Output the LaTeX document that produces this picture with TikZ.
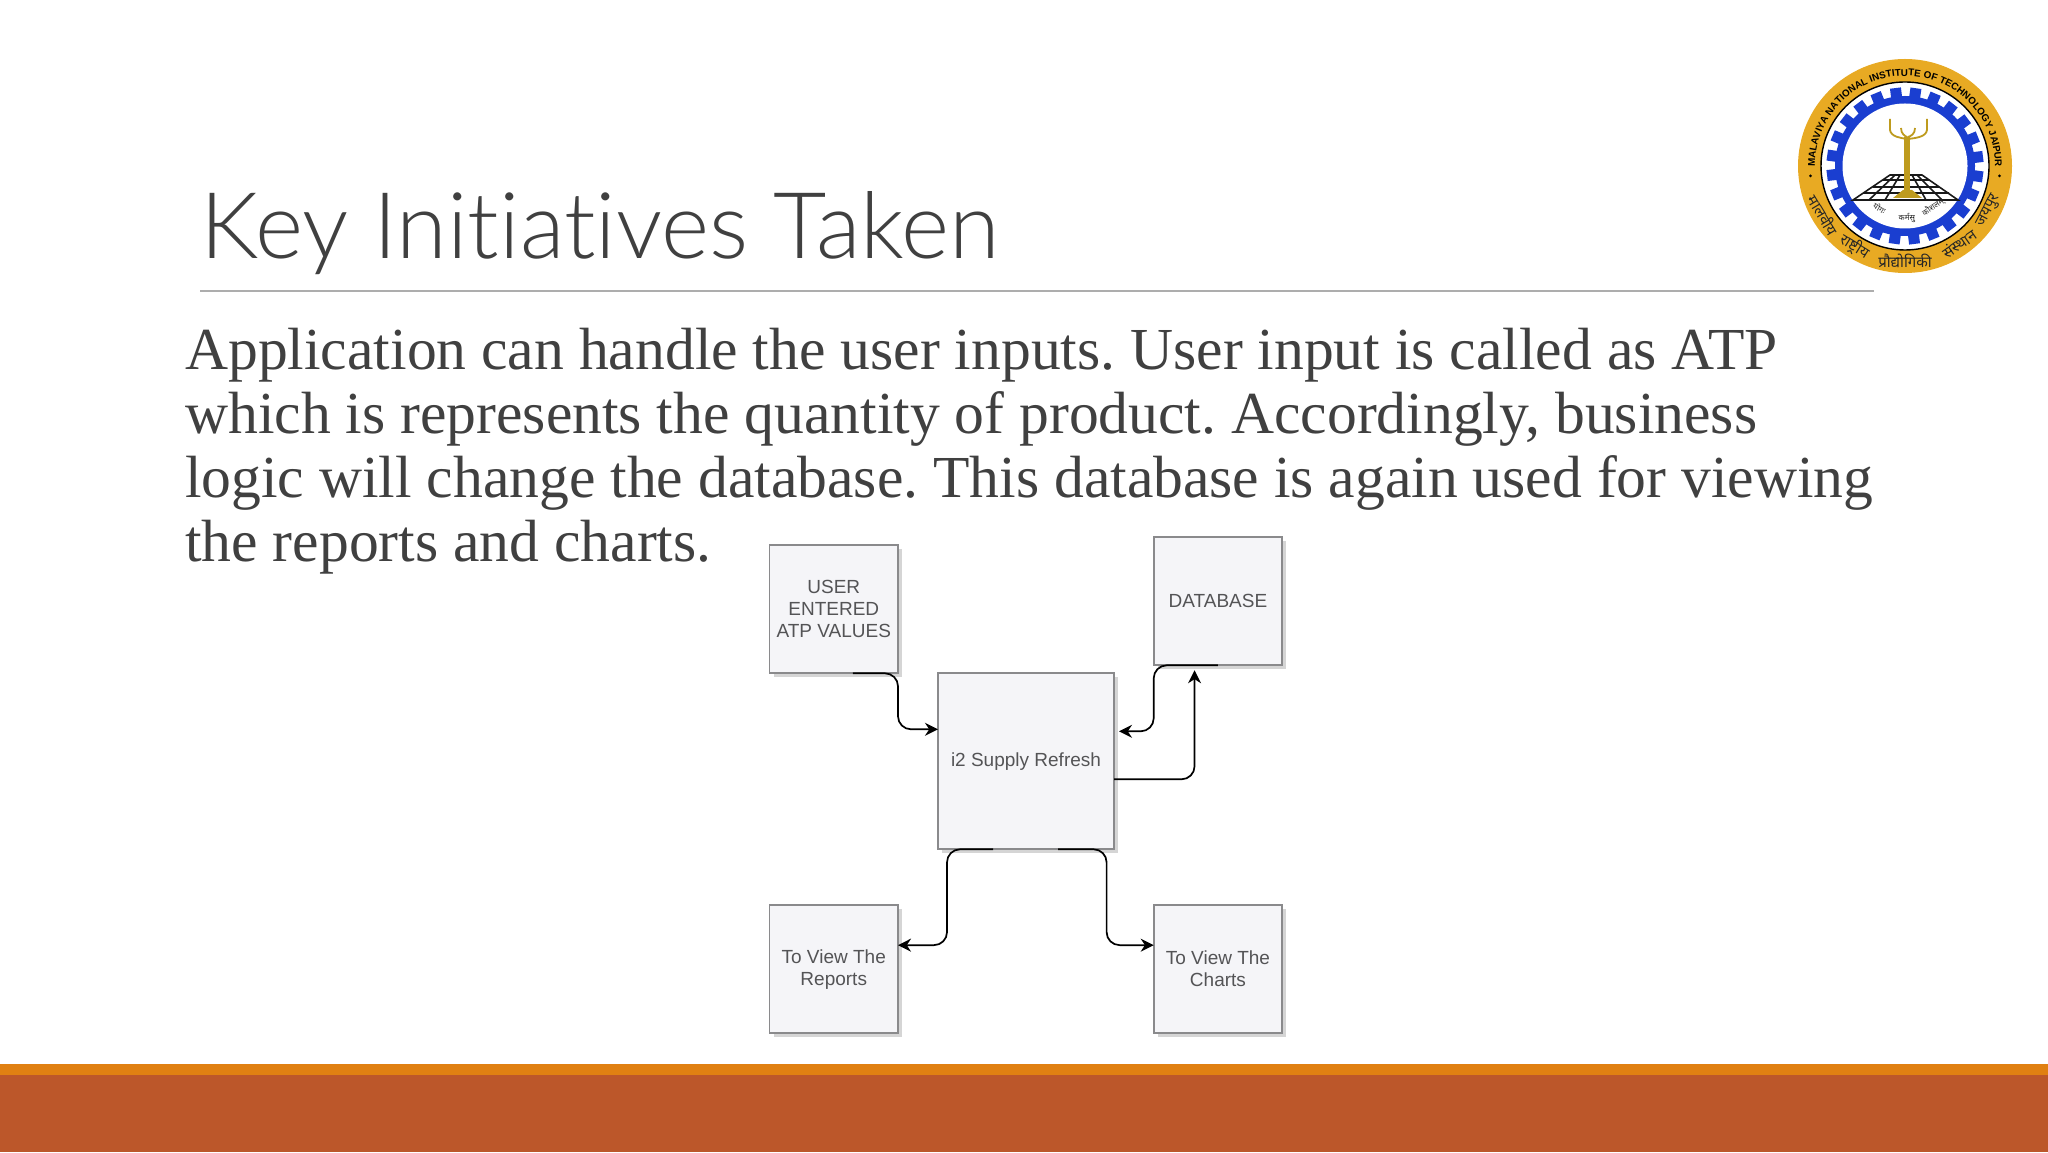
\documentclass[tikz,border=0pt]{standalone}
\usepackage{fontspec}
\setmainfont{Liberation Serif}
\setsansfont{Liberation Sans}
\newfontfamily\titlefont[Ligatures=NoCommon]{Lato Light}
\newfontfamily\hindifont[Script=Devanagari]{Noto Sans}
\usepackage{xcolor}
\definecolor{titlegrey}{RGB}{64,64,64}
\definecolor{bodygrey}{RGB}{64,64,64}
\definecolor{boxframe}{RGB}{138,138,140}
\definecolor{boxbg}{RGB}{245,245,248}
\definecolor{boxtext}{RGB}{84,84,86}
\definecolor{bandtop}{RGB}{224,128,18}
\definecolor{bandlow}{RGB}{188,87,42}
\definecolor{sealgold}{RGB}{232,170,35}
\definecolor{sealblue}{RGB}{26,62,208}
\definecolor{seallamp}{RGB}{190,155,30}
\usetikzlibrary{arrows.meta,positioning,shadows,decorations.text}
\tikzset{
  fc_box/.style={rectangle,
    draw=boxframe,fill=boxbg,line width=1.8pt,
    minimum width=128.5pt,minimum height=128.3pt,
    text=boxtext,align=center,outer sep=0pt,inner sep=0pt,
    font=\fontsize{19}{22}\selectfont\sffamily,
    drop shadow={shadow xshift=4pt,shadow yshift=-4pt,fill=black!32}},
  fc_main/.style={fc_box,minimum width=176pt,minimum height=176pt},
  arr/.style={-{Stealth[length=13pt,width=13pt]},line width=1.7pt,draw=black,
    rounded corners=13pt},
  hindi_big/.style={font=\hindifont\bfseries\fontsize{15}{16}\selectfont,text=black!85,inner sep=0pt},
  hindi_small/.style={font=\hindifont\fontsize{8}{9}\selectfont,text=black!85,inner sep=0pt},
}
\begin{document}
\begin{tikzpicture}[x=1pt,y=1pt]
  \useasboundingbox (0,0) rectangle (2048,1152);
  \fill[white] (0,0) rectangle (2048,1152);
  % bottom bands
  \fill[bandlow] (0,0) rectangle (2048,77);
  \fill[bandtop] (0,77) rectangle (2048,88);
  % title and rule
  \node (title) [anchor=base west,inner sep=0pt,text=titlegrey,
    font=\titlefont\fontsize{92.1}{100}\selectfont] at (200,893) {Key Initiatives Taken};
  \draw[black!32,line width=1.4pt] (200,861) -- (1874,861);
  \node (body) [anchor=north west,inner sep=0pt,align=left,text=bodygrey,
    font=\fontsize{59.6}{64.2}\selectfont\frenchspacing] at (185,824.5)
    {Application can handle the user inputs. User input is called as ATP\\
     which is represents the quantity of product. Accordingly, business\\
     logic will change the database. This database is again used for viewing\\
     the reports and charts.};

  % boxes
  \node (i2) [fc_main] at (1026,390.7) {i2 Supply Refresh};
  \node (user) [fc_box, above left=0pt and 40pt of i2] {USER\\ENTERED\\ATP VALUES};
  \node (db) [fc_box, above right=8pt and 39.7pt of i2] {DATABASE};
  \node (reports) [fc_box, below left=55.7pt and 40pt of i2] {To View The\\Reports};
  \node (charts) [fc_box, below right=55.7pt and 39.7pt of i2] {To View The\\Charts};

  \draw[arr] ([xshift=19pt]user.south) -- (user.south east) |- ([yshift=32pt]i2.west);
  \draw[arr] (db.south) -- (db.south west) |- ([xshift=5pt,yshift=30pt]i2.east);
  \draw[arr] ([yshift=-18pt]i2.east) -| ([xshift=-23.4pt,yshift=-5pt]db.south);
  \draw[arr] ([xshift=-33pt]i2.south) -- ([xshift=9pt]i2.south west) |- ([yshift=24pt]reports.east);
  \draw[arr] ([xshift=32pt]i2.south) -- ([xshift=-7.4pt]i2.south east) |- ([yshift=24pt]charts.west);

  % seal
  \begin{scope}[shift={(1905,986)}]
    \fill[sealgold] (0,0) circle (107);
    \fill[white] (0,0) circle (84);
    \draw[black,line width=1.4pt] (0,0) circle (84);
    \foreach \a in {0,15,...,345}
      \fill[sealblue,rotate=\a+7] (-5.5,66) rectangle (5.5,78.5);
    \fill[sealblue] (0,0) circle (70);
    \fill[white] (0,0) circle (62.5);
    % grid
    \draw[black!90,line width=1.6pt]
      (-15,-9) -- (17,-9) -- (53,-34) -- (-52,-34) -- cycle
      (-22,-14) -- (24,-14) (-32,-21) -- (34,-21) (-42,-27) -- (44,-27)
      (-5,-9) -- (-20,-34) (7,-9) -- (21,-34) (-10,-9) -- (-36,-34) (12,-9) -- (37,-34);
    % lamp
    \fill[seallamp] (-1,29) rectangle (5,-26);
    \fill[seallamp] (-12,-32) -- (17,-32) -- (7,-24) -- (-2,-24) -- cycle;
    \draw[seallamp,line width=1.8pt]
      (-15,47) -- (-15,36) .. controls (-14,29) and (-4,28) .. (2,27)
      (22,47) -- (22,36) .. controls (21,29) and (11,28) .. (3,27)
      (-4,38) .. controls (-4,32) and (0,30) .. (2,29)
      (10,38) .. controls (10,32) and (6,30) .. (3,29);
    % ring text
    \path[decorate,decoration={text along path,text align=center,
      text={|\fontsize{9.8}{11}\sffamily\bfseries|MALAVIYA NATIONAL INSTITUTE OF TECHNOLOGY JAIPUR}}]
      (180:90) arc (180:0:90);
    \fill[black] (186:95) circle (1.5) (-6:95) circle (1.5);
    \node (h1) [hindi_big,rotate=211-270] at (211:95) {मालवीय};
    \node (h2) [hindi_big,rotate=238-270] at (238:95) {राष्ट्रीय};
    \node (h3) [hindi_big] at (270:95) {प्रौद्योगिकी};
    \node (h4) [hindi_big,rotate=305-270] at (305:95) {संस्थान};
    \node (h5) [hindi_big,rotate=332-270] at (332:95) {जयपुर};
    \node (m1) [hindi_small,rotate=239-270] at (239:49) {योगः};
    \node (m2) [hindi_small] at (272:52) {कर्मसु};
    \node (m3) [hindi_small,rotate=304-270] at (304:50) {कौशलम्};
  \end{scope}
\end{tikzpicture}
\end{document}
